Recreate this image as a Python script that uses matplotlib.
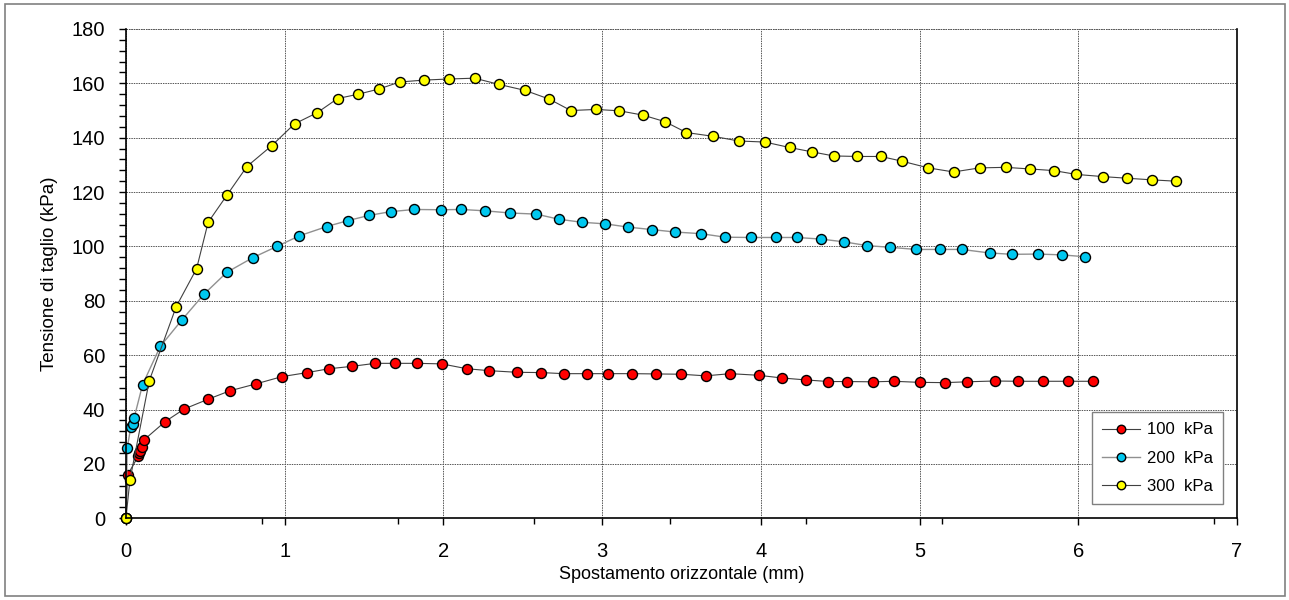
import matplotlib
matplotlib.use("Agg")
import matplotlib.pyplot as plt
from matplotlib.ticker import MultipleLocator
from matplotlib.patches import Rectangle

plt.rcParams['font.family'] = ['Liberation Sans', 'DejaVu Sans']

# Data (displacement mm, shear stress kPa)
x_100 = [0, 0.010, 0.078, 0.084, 0.090, 0.099, 0.115, 0.248, 0.367, 0.518, 0.655, 0.817,
         0.982, 1.142, 1.278, 1.425, 1.570, 1.692, 1.833, 1.990, 2.149, 2.290, 2.464,
         2.618, 2.758, 2.903, 3.037, 3.191, 3.339, 3.495, 3.652, 3.808, 3.986, 4.135,
         4.284, 4.425, 4.540, 4.706, 4.838, 5.000, 5.159, 5.296, 5.472, 5.622, 5.779,
         5.936, 6.094]
y_100 = [0, 15.9, 22.9, 23.9, 24.9, 26.1, 28.9, 35.6, 40.2, 43.8, 46.9, 49.4,
         52.1, 53.6, 55.0, 55.9, 57.0, 57.0, 57.0, 56.8, 55.0, 54.3, 53.7,
         53.6, 53.2, 53.2, 53.2, 53.2, 53.1, 53.0, 52.4, 53.2, 52.6, 51.6,
         50.9, 50.3, 50.3, 50.2, 50.4, 50.0, 49.9, 50.2, 50.5, 50.4, 50.4,
         50.4, 50.4]

x_200 = [0, 0.008, 0.031, 0.042, 0.052, 0.105, 0.216, 0.353, 0.491, 0.636, 0.800, 0.951,
         1.092, 1.264, 1.398, 1.530, 1.667, 1.816, 1.986, 2.114, 2.265, 2.420, 2.584,
         2.729, 2.872, 3.021, 3.166, 3.314, 3.461, 3.623, 3.776, 3.935, 4.093, 4.229,
         4.380, 4.523, 4.670, 4.811, 4.977, 5.126, 5.266, 5.441, 5.583, 5.746, 5.896,
         6.045]
y_200 = [0, 25.8, 33.7, 34.6, 37.0, 49.2, 63.2, 73.0, 82.4, 90.5, 95.9, 100.0,
         103.9, 107.3, 109.5, 111.4, 112.8, 113.6, 113.5, 113.6, 113.1, 112.3, 111.9,
         110.0, 108.9, 108.3, 107.1, 106.2, 105.3, 104.7, 103.4, 103.3, 103.3, 103.3,
         102.7, 101.7, 100.3, 99.7, 98.9, 98.9, 98.9, 97.6, 97.1, 97.2, 96.9,
         96.2]

x_300 = [0, 0.025, 0.147, 0.317, 0.445, 0.518, 0.638, 0.762, 0.919, 1.062, 1.205, 1.333,
         1.463, 1.593, 1.725, 1.879, 2.034, 2.196, 2.351, 2.515, 2.667, 2.803, 2.962,
         3.109, 3.258, 3.396, 3.531, 3.701, 3.860, 4.026, 4.181, 4.322, 4.458, 4.605,
         4.756, 4.887, 5.055, 5.214, 5.378, 5.542, 5.697, 5.846, 5.987, 6.154, 6.305,
         6.463, 6.616]
y_300 = [0, 14.0, 50.6, 77.9, 91.8, 108.9, 119.0, 129.4, 137.1, 145.1, 149.2, 154.4,
         156.0, 157.9, 160.5, 161.2, 161.6, 161.9, 159.6, 157.4, 154.2, 150.0, 150.4,
         149.9, 148.3, 145.9, 141.9, 140.5, 138.8, 138.4, 136.4, 134.8, 133.3, 133.1,
         133.1, 131.4, 128.9, 127.4, 128.9, 129.1, 128.5, 127.9, 126.5, 125.7, 125.1,
         124.5, 124.0]

labels = ['100  kPa', '200  kPa', '300  kPa']

fig = plt.figure(figsize=(12.89, 6), dpi=100)
ax = fig.add_axes([0.0977, 0.1362, 0.8620, 0.8155])

ax.plot(x_100, y_100, '-o', color='#404040', lw=0.8, ms=7.2, mfc='#ff0000',
        mec='black', mew=1.0, label=labels[0], clip_on=False)
ax.plot(x_200, y_200, '-o', color='#909090', lw=1.0, ms=7.2, mfc='#00c8f0',
        mec='black', mew=1.0, label=labels[1], clip_on=False)
ax.plot(x_300, y_300, '-o', color='#404040', lw=0.8, ms=7.2, mfc='#ffff00',
        mec='black', mew=1.0, label=labels[2], clip_on=False)

ax.set_xlim(0, 7)
ax.set_ylim(0, 180)
ax.xaxis.set_major_locator(MultipleLocator(1))
ax.xaxis.set_minor_locator(MultipleLocator(6 / 7))
ax.yaxis.set_major_locator(MultipleLocator(20))
ax.yaxis.set_minor_locator(MultipleLocator(4))

ax.grid(True, which='major', color='#555555', linestyle=(0, (1.5, 1)), lw=0.7)
ax.spines['top'].set_visible(False)
for s in ['left', 'bottom', 'right']:
    ax.spines[s].set_linewidth(1.2)
ax.axhline(180, color='#555555', linestyle=(0, (1.5, 1)), lw=0.7, clip_on=False)

ax.tick_params(axis='both', which='both', direction='out', labelsize=14.5, width=1)
ax.tick_params(axis='y', which='both', length=5, pad=10)
ax.tick_params(axis='x', which='major', length=5, pad=12)
ax.tick_params(axis='x', which='minor', length=4)

ax.set_xlabel('Spostamento orizzontale (mm)', fontsize=13, labelpad=4)
ax.set_ylabel('Tensione di taglio (kPa)', fontsize=13.5, labelpad=10)

leg = ax.legend(loc='lower right', bbox_to_anchor=(0.987, 0.029), fontsize=12,
                fancybox=False, framealpha=1, edgecolor='#808080', borderaxespad=0,
                handlelength=2.3, handletextpad=0.4, labelspacing=0.8, borderpad=0.6,
                markerscale=0.85)
leg.get_frame().set_linewidth(1.0)

fig.patches.append(Rectangle((0.004, 0.006), 0.993, 0.988, transform=fig.transFigure,
                             fill=False, edgecolor='#808080', lw=1.2))

fig.savefig('out.png', dpi=100)
